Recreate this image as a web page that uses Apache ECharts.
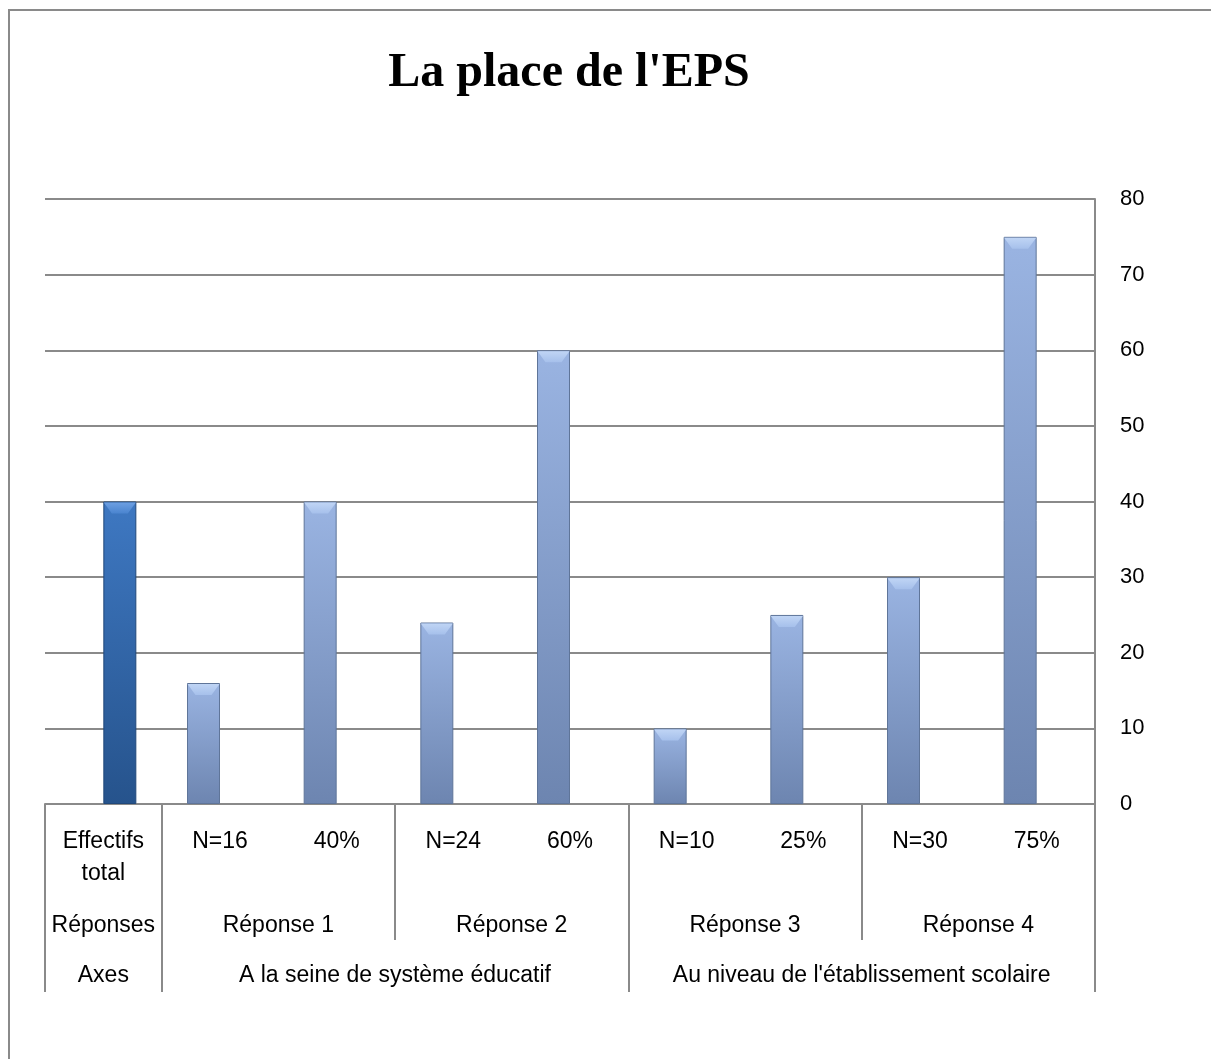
<!DOCTYPE html>
<html>
<head>
<meta charset="utf-8">
<title>La place de l'EPS</title>
<script src="https://cdn.jsdelivr.net/npm/echarts@6/dist/echarts.min.js"></script>
<style>
  html, body { margin: 0; padding: 0; background: #fff; }
  #chart { width: 1211px; height: 1059px; }
</style>
</head>
<body>
<div id="chart"></div>
<script>
// categories (first row of the axis table)
var categories = ['Effectifs\ntotal', 'N=16', '40%', 'N=24', '60%', 'N=10', '25%', 'N=30', '75%'];
// light blue bars (réponses) and the dark one (effectif total)
var reponseValues = [null, 16, 40, 24, 60, 10, 25, 30, 75];
var effectifValues = [40, null, null, null, null, null, null, null, null];
// second and third rows of the table, with how many categories each one covers
var reponseLabels = ['Réponses', 'Réponse 1', 'Réponse 2', 'Réponse 3', 'Réponse 4'];
var reponseSpans = [1, 2, 2, 2, 2];
var axeLabels = ['Axes', 'A la seine de système éducatif', "Au niveau de l'établissement scolaire"];
var axeSpans = [1, 4, 4];
// y ticks
var yMin = 0, yMax = 80, yStep = 10;

var chart = echarts.init(document.getElementById('chart'));

// centre of each group, in category units
function groupFormatter(names, spans) {
  var centers = [], pos = 0;
  spans.forEach(function (s) { centers.push(pos + s / 2); pos += s; });
  return function (v) {
    for (var i = 0; i < centers.length; i++) {
      if (Math.abs(centers[i] - v) < 1e-6) return names[i];
    }
    return '';
  };
}

var gray = '#8a8a8a';
var labelFont = 'Liberation Sans';
var labelSize = 23;

var lightBar = new echarts.graphic.LinearGradient(0, 0, 0, 1, [
  { offset: 0, color: '#9ab4e2' },
  { offset: 1, color: '#6d85b0' }
]);
var darkBar = new echarts.graphic.LinearGradient(0, 0, 0, 1, [
  { offset: 0, color: '#3e78c2' },
  { offset: 1, color: '#26538c' }
]);
// bevelled top of each bar
var capShape = 'path://M0,0 L20,0 L15,6 L5,6 Z';

function capSeries(name, values, top, bottom) {
  return {
    name: name,
    type: 'pictorialBar',
    xAxisIndex: 0,
    data: values,
    barWidth: 33,
    barGap: '0%',
    symbol: capShape,
    symbolSize: [32, 11],
    symbolPosition: 'end',
    symbolOffset: [0, 1],
    z: 3,
    silent: true,
    itemStyle: {
      color: new echarts.graphic.LinearGradient(0, 0, 0, 1, [
        { offset: 0, color: top },
        { offset: 1, color: bottom }
      ])
    }
  };
}

var option = {
  backgroundColor: '#fff',
  animation: false,
  title: {
    text: "La place de l'EPS",
    left: 564,
    textAlign: 'center',
    top: 45,
    textStyle: { fontFamily: 'Liberation Serif', fontWeight: 'bold', fontSize: 48, color: '#000' }
  },
  graphic: [{
    type: 'rect',
    shape: { x: 9, y: 10, width: 1212, height: 1060 },
    style: { fill: 'none', stroke: gray, lineWidth: 2 },
    silent: true
  }],
  grid: { left: 45, right: 116, top: 199, bottom: 255 },
  xAxis: [
    {
      type: 'category',
      position: 'bottom',
      data: categories,
      axisLine: { lineStyle: { color: gray, width: 2 } },
      axisTick: {
        show: true,
        length: 188,
        interval: function (i) { return i === 0 || i === 1 || i === 5; },
        lineStyle: { color: gray, width: 2 }
      },
      axisLabel: {
        interval: 0, margin: 22, color: '#000',
        fontFamily: labelFont, fontSize: labelSize, lineHeight: 32
      }
    },
    {
      type: 'category',
      position: 'bottom',
      data: categories,
      axisLine: { show: false },
      axisTick: {
        show: true,
        length: 136,
        interval: function (i) { return i === 3 || i === 7; },
        lineStyle: { color: gray, width: 2 }
      },
      axisLabel: { show: false }
    },
    {
      type: 'value',
      position: 'bottom',
      min: 0, max: categories.length, interval: 0.5,
      axisLine: { show: false }, axisTick: { show: false }, splitLine: { show: false },
      axisLabel: {
        margin: 106, color: '#000', fontFamily: labelFont, fontSize: labelSize, lineHeight: 32,
        formatter: groupFormatter(reponseLabels, reponseSpans)
      }
    },
    {
      type: 'value',
      position: 'bottom',
      min: 0, max: categories.length, interval: 0.5,
      axisLine: { show: false }, axisTick: { show: false }, splitLine: { show: false },
      axisLabel: {
        margin: 156, color: '#000', fontFamily: labelFont, fontSize: labelSize, lineHeight: 32,
        formatter: groupFormatter(axeLabels, axeSpans)
      }
    }
  ],
  yAxis: {
    type: 'value',
    position: 'right',
    min: yMin, max: yMax, interval: yStep,
    axisLine: { show: true, onZero: false, lineStyle: { color: gray, width: 2 } },
    axisTick: { show: false },
    splitLine: { lineStyle: { color: gray, width: 2 } },
    axisLabel: { margin: 25, color: '#000', fontFamily: labelFont, fontSize: 22 }
  },
  series: [
    {
      name: 'Réponses',
      type: 'bar',
      xAxisIndex: 0,
      data: reponseValues,
      barWidth: 33,
      barGap: '0%',
      itemStyle: { color: lightBar, borderColor: '#5f7599', borderWidth: 1 }
    },
    {
      name: 'Effectifs total',
      type: 'bar',
      xAxisIndex: 0,
      data: effectifValues,
      barWidth: 33,
      barGap: '0%',
      itemStyle: { color: darkBar, borderColor: '#21487a', borderWidth: 1 }
    },
    capSeries('cap-reponses', reponseValues, '#c0d5f5', '#a6c0eb'),
    capSeries('cap-effectifs', effectifValues, '#6d9fe2', '#4a84cf')
  ]
};

chart.setOption(option);
window.addEventListener('resize', function () { chart.resize(); });
</script>
</body>
</html>
